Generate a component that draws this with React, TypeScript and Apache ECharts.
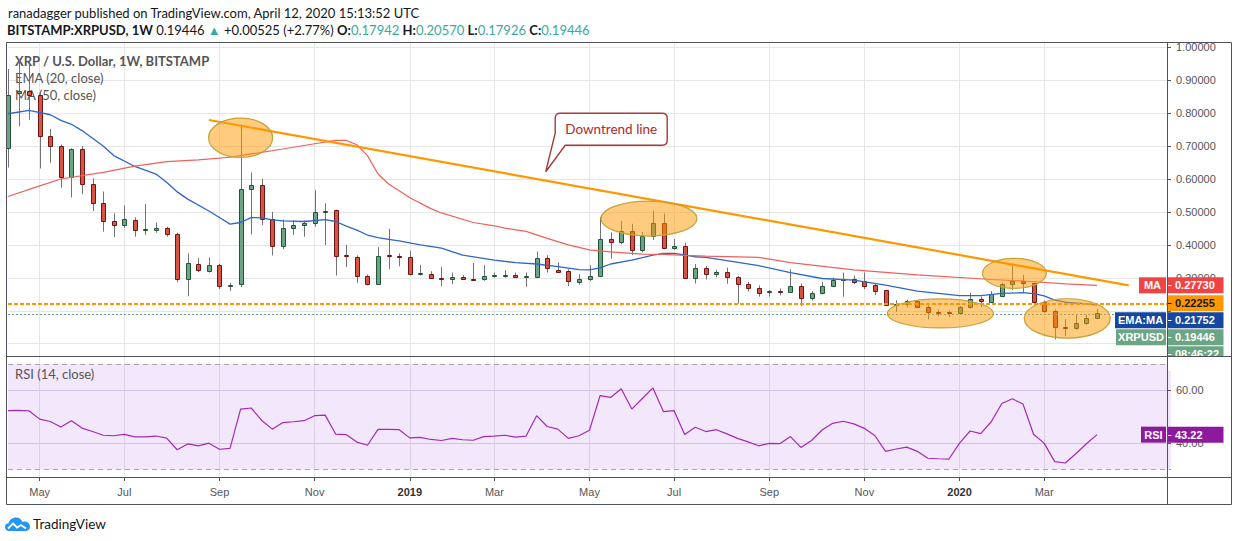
import React, { useEffect, useRef } from "react";
import * as echarts from "echarts";

// ---------- data ----------
const START_UTC = Date.UTC(2018, 3, 16);
const WEEK_MS = 7 * 86400000;
const SLOTS = 111;
const MONTHS = ["Jan", "Feb", "Mar", "Apr", "May", "Jun", "Jul", "Aug", "Sep", "Oct", "Nov", "Dec"];

const OPEN = [
  0.693, 0.862, 0.866, 0.856, 0.73, 0.7, 0.605, 0.691, 0.584, 0.526,
  0.474, 0.461, 0.477, 0.446, 0.446, 0.452, 0.434, 0.295, 0.343, 0.32,
  0.34, 0.275, 0.282, 0.571, 0.582, 0.48, 0.396, 0.452, 0.459, 0.465,
  0.5, 0.506, 0.368, 0.363, 0.305, 0.282, 0.368, 0.367, 0.362, 0.312,
  0.313, 0.3, 0.295, 0.304, 0.298, 0.295, 0.306, 0.306, 0.31, 0.304,
  0.304, 0.359, 0.325, 0.32, 0.286, 0.295, 0.307, 0.417, 0.408, 0.442,
  0.383, 0.427, 0.466, 0.39, 0.396, 0.3, 0.329, 0.311, 0.317, 0.302,
  0.28, 0.268, 0.257, 0.26, 0.258, 0.275, 0.238, 0.253, 0.275, 0.292,
  0.298, 0.29, 0.277, 0.262, 0.219, 0.222, 0.229, 0.213, 0.197, 0.196,
  0.194, 0.2124, 0.2347, 0.2276, 0.246, 0.28, 0.2895, 0.283, 0.2255, 0.2002,
  0.1494, 0.147, 0.1616, 0.17942,
];
const CLOSE = [
  0.856, 0.867, 0.856, 0.73, 0.7, 0.605, 0.691, 0.584, 0.526, 0.474,
  0.461, 0.478, 0.446, 0.449, 0.452, 0.434, 0.295, 0.344, 0.325, 0.34,
  0.274, 0.278, 0.571, 0.582, 0.479, 0.396, 0.452, 0.46, 0.466, 0.501,
  0.503, 0.366, 0.365, 0.305, 0.282, 0.366, 0.365, 0.363, 0.313, 0.314,
  0.3, 0.295, 0.304, 0.298, 0.294, 0.307, 0.308, 0.31, 0.303, 0.307,
  0.359, 0.329, 0.318, 0.29, 0.295, 0.307, 0.417, 0.408, 0.442, 0.384,
  0.427, 0.466, 0.39, 0.396, 0.3, 0.329, 0.311, 0.317, 0.302, 0.28,
  0.268, 0.253, 0.259, 0.258, 0.275, 0.238, 0.253, 0.275, 0.293, 0.297,
  0.288, 0.276, 0.261, 0.217, 0.222, 0.229, 0.213, 0.195, 0.195, 0.194,
  0.213, 0.2347, 0.2296, 0.25, 0.28, 0.2895, 0.283, 0.2255, 0.2002, 0.1494,
  0.147, 0.1616, 0.177, 0.19446,
];
const HIGH = [
  0.934, 0.96, 0.95, 0.865, 0.752, 0.705, 0.693, 0.7, 0.602, 0.562,
  0.496, 0.52, 0.484, 0.524, 0.468, 0.455, 0.437, 0.374, 0.36, 0.362,
  0.343, 0.285, 0.765, 0.62, 0.6, 0.5, 0.477, 0.474, 0.474, 0.566,
  0.526, 0.507, 0.4, 0.368, 0.31, 0.393, 0.449, 0.374, 0.382, 0.339,
  0.32, 0.333, 0.316, 0.308, 0.345, 0.338, 0.316, 0.323, 0.316, 0.316,
  0.38, 0.369, 0.347, 0.326, 0.311, 0.338, 0.485, 0.438, 0.473, 0.464,
  0.439, 0.504, 0.495, 0.418, 0.407, 0.342, 0.336, 0.324, 0.331, 0.306,
  0.288, 0.277, 0.263, 0.268, 0.326, 0.283, 0.26, 0.288, 0.301, 0.316,
  0.307, 0.316, 0.283, 0.263, 0.232, 0.234, 0.23, 0.217, 0.204, 0.201,
  0.214, 0.255, 0.243, 0.26, 0.285, 0.344, 0.309, 0.285, 0.231, 0.204,
  0.175, 0.189, 0.188, 0.2057,
];
const LOW = [
  0.635, 0.76, 0.78, 0.632, 0.649, 0.574, 0.544, 0.554, 0.503, 0.44,
  0.424, 0.452, 0.425, 0.43, 0.437, 0.425, 0.287, 0.244, 0.317, 0.316,
  0.266, 0.26, 0.272, 0.432, 0.46, 0.368, 0.387, 0.43, 0.425, 0.455,
  0.4, 0.307, 0.333, 0.285, 0.277, 0.282, 0.326, 0.335, 0.308, 0.307,
  0.297, 0.275, 0.281, 0.294, 0.293, 0.291, 0.3, 0.3, 0.299, 0.272,
  0.303, 0.316, 0.315, 0.275, 0.279, 0.29, 0.305, 0.358, 0.402, 0.369,
  0.377, 0.415, 0.387, 0.385, 0.298, 0.283, 0.295, 0.302, 0.282, 0.222,
  0.258, 0.243, 0.243, 0.247, 0.256, 0.215, 0.231, 0.25, 0.273, 0.243,
  0.281, 0.266, 0.248, 0.214, 0.197, 0.21, 0.21, 0.174, 0.182, 0.181,
  0.192, 0.207, 0.211, 0.225, 0.243, 0.263, 0.255, 0.222, 0.194, 0.113,
  0.123, 0.1425, 0.157, 0.17926,
];
const RSI = [
  52.3, 52.4, 52.2, 49.1, 48.2, 46.1, 48.5, 45.7, 44.4, 43.0,
  42.8, 43.3, 42.4, 42.4, 42.7, 41.9, 37.5, 39.7, 39.0, 40.0,
  37.7, 38.0, 52.9, 53.3, 48.6, 45.3, 47.8, 48.1, 48.5, 50.4,
  50.6, 43.4, 43.2, 40.4, 39.2, 45.2, 45.2, 45.1, 42.0, 42.2,
  41.4, 41.0, 41.8, 41.3, 41.1, 42.5, 42.7, 43.0, 42.3, 42.7,
  50.4, 46.3, 45.3, 41.8, 42.8, 44.9, 58.0, 57.3, 60.6, 52.9,
  56.9, 60.9, 51.9, 52.3, 43.3, 46.0, 44.4, 45.1, 43.5, 41.8,
  40.5, 39.0, 39.9, 39.8, 42.5, 38.4, 41.0, 45.0, 47.5, 48.3,
  47.3, 45.6, 42.8, 36.9, 37.8, 38.5, 36.9, 34.3, 34.1, 34.0,
  40.0, 44.6, 43.6, 48.1, 55.0, 56.8, 54.8, 43.4, 40.0, 33.0,
  32.5, 36.0, 39.8, 43.22,
];
const EMA20 = [
  [0, 0.798], [2, 0.808], [4, 0.795], [5, 0.778], [6, 0.766], [7, 0.747], [9, 0.7], [10, 0.671],
  [12, 0.638], [14, 0.615], [15, 0.59], [16, 0.561], [17, 0.539], [19, 0.503], [20, 0.483], [21, 0.463],
  [22, 0.468], [23, 0.483], [24, 0.482], [25, 0.476], [26, 0.473], [28, 0.471], [30, 0.477], [31, 0.471],
  [32, 0.457], [33, 0.445], [34, 0.43], [35, 0.422], [36, 0.417], [37, 0.412], [39, 0.4], [41, 0.39],
  [43, 0.369], [46, 0.354], [48, 0.346], [50, 0.342], [52, 0.334], [54, 0.325], [55, 0.324], [56, 0.33],
  [57, 0.342], [59, 0.354], [61, 0.369], [62, 0.374], [63, 0.374], [64, 0.37], [65, 0.364], [66, 0.362],
  [68, 0.352], [71, 0.337], [74, 0.316], [77, 0.298], [80, 0.293], [83, 0.278], [86, 0.26], [90, 0.246],
  [92, 0.246], [94, 0.253], [96, 0.255], [97, 0.252], [98, 0.245], [99, 0.2327], [100, 0.226], [102, 0.221],
  [103, 0.21752],
];
const MA50 = [
  [0, 0.547], [3, 0.579], [5, 0.6], [9, 0.62], [12, 0.639], [15, 0.653], [18, 0.658], [21, 0.666],
  [23, 0.676], [26, 0.691], [29, 0.707], [31, 0.717], [32, 0.717], [33, 0.704], [34, 0.671], [35, 0.615],
  [36, 0.585], [37, 0.564], [38, 0.543], [40, 0.51], [41, 0.497], [44, 0.468], [46, 0.458], [47, 0.451],
  [49, 0.441], [51, 0.42], [53, 0.4], [55, 0.385], [57, 0.379], [60, 0.372], [62, 0.371], [64, 0.368],
  [66, 0.366], [71, 0.362], [74, 0.346], [80, 0.324], [86, 0.309], [93, 0.295], [96, 0.2905], [100, 0.282],
  [103, 0.2773],
];
const TREND_LINE = [[19, 0.779], [106, 0.277]];
const LEVEL = 0.22255;
const LAST_PRICE = 0.19446;
const MA_LAST = 0.2773;
const EMA_LAST = 0.21752;
const RSI_LAST = 43.22;
const COUNTDOWN = "08:46:22";
// price-axis labels hidden under the stacked tags
const HIDDEN_PRICE_LABELS = [0.1, 0.2];
// annotation ellipses: [candle index, price, dx px, rx, ry]
const ELLIPSES = [
  [22, 0.725, 0, 32, 19.7],
  [61, 0.48, -4, 48, 17.5],
  [95, 0.3137, 2, 32, 15],
  [88, 0.1919, 2, 53, 14.5],
  [100, 0.1767, 2, 43, 19.7],
];
const CALLOUT_ANCHOR = [51, 0.622];
const HEADER_1 = "ranadagger published on TradingView.com, April 12, 2020 15:13:52 UTC";
const SYMBOL = "BITSTAMP:XRPUSD, 1W";
const QUOTE = { last: "0.19446", change: "+0.00525 (+2.77%)", o: "0.17942", h: "0.20570", l: "0.17926", c: "0.19446" };

// ---------- derived ----------
const DATES = Array.from({ length: SLOTS }, (_, i) => new Date(START_UTC + i * WEEK_MS));
const CATS = DATES.map((d) => d.toISOString().slice(0, 10));
const XLABELS = DATES.map((d, i) => {
  if (i === 0 || i >= OPEN.length) return "";
  const m = d.getUTCMonth();
  if (m === DATES[i - 1].getUTCMonth() || m % 2 !== 0) return "";
  return m === 0 ? String(d.getUTCFullYear()) : MONTHS[m];
});
const CANDLES = OPEN.map((o, i) => [i, o, CLOSE[i], LOW[i], HIGH[i]]);

const UP = "#6ba583";
const DOWN = "#d75442";
const UP_B = "#225437";
const DOWN_B = "#6f1614";
const WICK = "#737375";
const GRID_C = "#e6e6e6";
const FRAME = "#50535e";
const AX_FONT = "Liberation Sans";
const UI_FONT = "Lato";

const CALLOUT_D = "M5,0 H107 Q112,0 112,5 V27 Q112,32 107,32 H10 L-9.5,58.5 L0,20 V5 Q0,0 5,0 Z";
const LOGO_D =
  "M4,14 C1.5,14 0,12 0,10 C0,7.8 1.7,6.2 3.8,6 C4.5,2.8 7.5,0.5 11,0.5 C14,0.5 16.5,2.3 17.5,5 C18.2,4.7 19,4.6 19.8,4.6 C22.7,4.6 25,6.9 25,9.8 C25,12.2 23,14 20.5,14 Z";
let registered = false;
function registerShapes() {
  if (registered) return;
  registered = true;
  echarts.graphic.registerShape("tvCallout", echarts.graphic.extendPath(CALLOUT_D, {}) as any);
  echarts.graphic.registerShape("tvLogo", echarts.graphic.extendPath(LOGO_D, {}) as any);
}

const isLabel = (i: number) => XLABELS[i] !== "";

function baseOption(): any {
  return {
    animation: false,
    backgroundColor: "#ffffff",
    textStyle: { fontFamily: AX_FONT },
    grid: [
      { left: 8, right: 63, top: 42, bottom: 185 },
      { left: 8, right: 63, top: 357, bottom: 64 },
    ],
    xAxis: [
      {
        gridIndex: 0,
        type: "category",
        data: CATS,
        boundaryGap: false,
        axisLine: { show: false },
        axisTick: { show: false },
        axisLabel: { show: false },
        splitLine: { show: true, interval: isLabel, lineStyle: { color: GRID_C, width: 1 } },
      },
      {
        gridIndex: 1,
        type: "category",
        data: CATS,
        boundaryGap: false,
        axisLine: { show: false },
        axisTick: { show: true, interval: isLabel, length: 4, lineStyle: { color: FRAME } },
        axisLabel: {
          show: true,
          interval: isLabel,
          margin: 9,
          color: "#555",
          fontSize: 11,
          fontFamily: AX_FONT,
          formatter: (_v: string, i: number) => {
            const t = XLABELS[i];
            return /^\d{4}$/.test(t) ? `{y|${t}}` : t;
          },
          rich: { y: { fontWeight: "bold", color: "#333", fontSize: 11, fontFamily: AX_FONT } },
        },
        splitLine: { show: true, interval: isLabel, lineStyle: { color: GRID_C, width: 1 } },
      },
    ],
    yAxis: [
      {
        gridIndex: 0,
        type: "value",
        position: "right",
        offset: -4,
        min: 0.0628,
        max: 1.0158,
        splitNumber: 10,
        minInterval: 0.1,
        maxInterval: 0.1,
        axisLine: { show: false },
        axisTick: { show: true, length: 4, lineStyle: { color: FRAME } },
        axisLabel: {
          showMinLabel: false,
          showMaxLabel: false,
          margin: 9,
          color: "#555",
          fontSize: 11,
          fontFamily: AX_FONT,
          formatter: (v: number) =>
            HIDDEN_PRICE_LABELS.some((h) => Math.abs(h - v) < 1e-6) ? "" : v.toFixed(5),
        },
        splitLine: { show: true, showMinLine: false, showMaxLine: false, lineStyle: { color: GRID_C } },
      },
      {
        gridIndex: 1,
        type: "value",
        position: "right",
        offset: -4,
        min: 27.2,
        max: 72.6,
        splitNumber: 4,
        minInterval: 20,
        maxInterval: 20,
        axisLine: { show: false },
        axisTick: { show: true, length: 4, lineStyle: { color: FRAME } },
        axisLabel: {
          showMinLabel: false,
          showMaxLabel: false,
          margin: 9,
          color: "#555",
          fontSize: 11,
          fontFamily: AX_FONT,
          formatter: (v: number) => v.toFixed(2),
        },
        splitLine: { show: true, showMinLine: false, showMaxLine: false, lineStyle: { color: "#ddd3e6" } },
      },
    ],
    series: [
      {
        name: "XRPUSD",
        type: "custom",
        xAxisIndex: 0,
        yAxisIndex: 0,
        data: CANDLES,
        encode: { x: 0, y: [1, 2, 3, 4] },
        z: 2,
        renderItem: (_p: any, api: any) => {
          const i = api.value(0);
          const o = api.value(1);
          const c = api.value(2);
          const l = api.value(3);
          const h = api.value(4);
          const pO = api.coord([i, o]);
          const pC = api.coord([i, c]);
          const pL = api.coord([i, l]);
          const pH = api.coord([i, h]);
          const x = Math.round(pO[0]);
          const up = c >= o;
          const top = Math.round(Math.min(pO[1], pC[1]));
          const bot = Math.round(Math.max(pO[1], pC[1]));
          return {
            type: "group",
            children: [
              {
                type: "line",
                shape: { x1: x + 0.5, y1: pH[1], x2: x + 0.5, y2: pL[1] },
                style: { stroke: WICK, lineWidth: 1 },
              },
              {
                type: "rect",
                shape: { x: x - 1.5, y: top + 0.5, width: 4, height: Math.max(bot - top, 1) },
                style: { fill: up ? UP : DOWN, stroke: up ? UP_B : DOWN_B, lineWidth: 1 },
              },
            ],
          };
        },
      },
      {
        name: "EMA",
        type: "line",
        xAxisIndex: 0,
        yAxisIndex: 0,
        data: EMA20,
        showSymbol: false,
        symbol: "none",
        z: 3,
        lineStyle: { color: "#2f66c7", width: 1.3 },
        markLine: {
          silent: true,
          symbol: "none",
          label: { show: false },
          data: [
            { yAxis: LEVEL, lineStyle: { color: "#ff9800", width: 2, type: [4, 2] } },
            { yAxis: LAST_PRICE, lineStyle: { color: UP, width: 1, type: [2, 2] } },
          ],
        },
      },
      {
        name: "MA",
        type: "line",
        xAxisIndex: 0,
        yAxisIndex: 0,
        data: MA50,
        showSymbol: false,
        symbol: "none",
        z: 3,
        lineStyle: { color: "#f0605a", width: 1.2 },
      },
      {
        name: "Trend",
        type: "line",
        xAxisIndex: 0,
        yAxisIndex: 0,
        data: TREND_LINE,
        showSymbol: false,
        symbol: "none",
        z: 4,
        lineStyle: { color: "#ff9800", width: 2.2 },
      },
      {
        name: "RSI",
        type: "line",
        xAxisIndex: 1,
        yAxisIndex: 1,
        data: RSI,
        showSymbol: false,
        symbol: "none",
        z: 3,
        lineStyle: { color: "#a02cb4", width: 1.2 },
        markArea: {
          silent: true,
          itemStyle: { color: "rgba(150, 40, 230, 0.11)" },
          data: [[{ yAxis: 30 }, { yAxis: 70 }]],
        },
        markLine: {
          silent: true,
          symbol: "none",
          label: { show: false },
          lineStyle: { color: "#a9a6b0", width: 1, type: [5, 4] },
          data: [{ yAxis: 70 }, { yAxis: 30 }],
        },
      },
    ],
  };
}

function tag(
  yc: number,
  label: string | null,
  labelW: number,
  value: string,
  bg: string,
  fg: string,
  z: number
): any[] {
  const out: any[] = [];
  const h = 16;
  if (label) {
    out.push({
      type: "rect",
      z,
      shape: { x: 1166 - labelW, y: yc - h / 2, width: labelW, height: h },
      style: { fill: bg },
    });
    out.push({
      type: "text",
      z: z + 1,
      x: 1166 - labelW / 2,
      y: yc,
      style: {
        text: label,
        fill: fg,
        font: `bold 11px "${AX_FONT}"`,
        textAlign: "center",
        textVerticalAlign: "middle",
        align: "center",
        verticalAlign: "middle",
      },
    });
  }
  out.push({
    type: "rect",
    z,
    shape: { x: 1167.5, y: yc - h / 2, width: 56, height: h },
    style: { fill: bg },
  });
  out.push({
    type: "line",
    z: z + 1,
    shape: { x1: 1167.5, y1: Math.round(yc) + 0.5, x2: 1171.5, y2: Math.round(yc) + 0.5 },
    style: { stroke: fg, lineWidth: 1 },
  });
  out.push({
    type: "text",
    z: z + 1,
    x: 1175,
    y: yc,
    style: {
      text: value,
      fill: fg,
      font: `bold 11px "${AX_FONT}"`,
      textAlign: "left",
      textVerticalAlign: "middle",
      align: "left",
      verticalAlign: "middle",
    },
  });
  return out;
}

function buildGraphics(chart: any): any[] {
  const py = (v: number) => chart.convertToPixel({ yAxisIndex: 0 }, v) as number;
  const ry = (v: number) => chart.convertToPixel({ yAxisIndex: 1 }, v) as number;
  const pt = (i: number, v: number) => chart.convertToPixel({ gridIndex: 0 }, [i, v]) as number[];
  const g: any[] = [];

  // header
  g.push({
    type: "text",
    x: 8,
    y: 13,
    z: 1,
    style: { text: HEADER_1, fill: "#131722", font: `13px "${UI_FONT}"`, textVerticalAlign: "middle", verticalAlign: "middle" },
  });
  g.push({
    type: "text",
    x: 7,
    y: 30,
    z: 1,
    style: {
      text: `{b|${SYMBOL}} {n|${QUOTE.last}} {g|▲} {n|${QUOTE.change}} {b|O:}{g|${QUOTE.o}} {b|H:}{g|${QUOTE.h}} {b|L:}{g|${QUOTE.l}} {b|C:}{g|${QUOTE.c}}`,
      font: `13px "${UI_FONT}"`,
      textVerticalAlign: "middle",
      verticalAlign: "middle",
      rich: {
        b: { fontWeight: "bold", fill: "#131722", fontSize: 13, fontFamily: UI_FONT },
        n: { fill: "#131722", fontSize: 13, fontFamily: UI_FONT },
        g: { fill: "#3aaa9c", fontSize: 13, fontFamily: UI_FONT },
      },
    },
  });
  // in-pane legends (below candles)
  const legend = (t: string, y: number, bold: boolean) => ({
    type: "text",
    x: 15,
    y,
    z: 1,
    style: {
      text: t,
      fill: "#555",
      font: `${bold ? "bold " : ""}13px "${UI_FONT}"`,
      textVerticalAlign: "middle",
      verticalAlign: "middle",
    },
  });
  g.push(legend("XRP / U.S. Dollar, 1W, BITSTAMP", 60.5, true));
  g.push(legend("EMA (20, close)", 77.5, false));
  g.push(legend("MA (50, close)", 94.5, false));
  g.push(legend("RSI (14, close)", 374, false));

  // ellipses
  ELLIPSES.forEach(([i, v, dx, rx, ry2]) => {
    const p = pt(i, v);
    g.push({
      type: "ellipse",
      z: 5,
      shape: { cx: p[0] + dx, cy: p[1], rx, ry: ry2 },
      style: { fill: "rgba(255,152,0,0.5)", stroke: "#c4a23a", lineWidth: 1.2 },
    });
  });

  // callout
  const tip = pt(CALLOUT_ANCHOR[0], CALLOUT_ANCHOR[1]);
  const ox = tip[0] - 1.5 + 9.5;
  const oy = tip[1] - 58.5;
  g.push({
    type: "tvCallout",
    z: 6,
    x: ox,
    y: oy,
    style: { fill: "#ffffff", stroke: "#a83a3a", lineWidth: 1.4 },
  });
  g.push({
    type: "text",
    z: 7,
    x: ox + 56,
    y: oy + 16,
    style: {
      text: "Downtrend line",
      fill: "#b02a2a",
      font: `13.5px "${UI_FONT}"`,
      textAlign: "center",
      textVerticalAlign: "middle",
      align: "center",
      verticalAlign: "middle",
    },
  });

  // price tags (stacked)
  const yMA = py(MA_LAST);
  const yLevel = Math.max(py(LEVEL), yMA + 17);
  const yEma = Math.max(py(EMA_LAST), yLevel + 17);
  const yLast = Math.max(py(LAST_PRICE), yEma + 17);
  const yCd = yLast + 17;
  g.push(...tag(yMA, "MA", 27, MA_LAST.toFixed(5), "#f04444", "#ffffff", 20));
  g.push(...tag(yLevel, null, 0, LEVEL.toFixed(5), "#ff9800", "#131722", 20));
  g.push(...tag(yEma, "EMA:MA", 51, EMA_LAST.toFixed(5), "#1447a0", "#ffffff", 20));
  g.push(...tag(yLast, "XRPUSD", 50, LAST_PRICE.toFixed(5), UP, "#ffffff", 20));
  g.push(...tag(yCd, null, 0, COUNTDOWN, UP, "#ffffff", 20));
  // cover overflow of countdown below the pane
  g.push({ type: "rect", z: 25, shape: { x: 1168, y: 357, width: 64, height: 14 }, style: { fill: "#ffffff" } });
  // rsi tag
  g.push(...tag(ry(RSI_LAST), "RSI", 25, RSI_LAST.toFixed(2), "#8d1a9d", "#ffffff", 20));

  // frame
  const fl = (x1: number, y1: number, x2: number, y2: number) => ({
    type: "line",
    z: 30,
    shape: { x1, y1, x2, y2 },
    style: { stroke: FRAME, lineWidth: 1 },
  });
  g.push({
    type: "rect",
    z: 30,
    shape: { x: 6.5, y: 42.5, width: 1225, height: 462 },
    style: { fill: "none", stroke: FRAME, lineWidth: 1 },
  });
  g.push(fl(1167.5, 42.5, 1167.5, 504.5));
  g.push(fl(6.5, 356.5, 1231.5, 356.5));
  g.push(fl(6.5, 477.5, 1231.5, 477.5));

  // TradingView logo
  g.push({ type: "tvLogo", z: 1, x: 5, y: 517, style: { fill: "#2196f3" } });
  g.push({
    type: "polyline",
    z: 2,
    shape: { points: [[3, 11.5], [8, 6.5], [12, 10.5], [16, 8], [21, 11.5]] },
    x: 5,
    y: 517,
    style: { stroke: "#ffffff", lineWidth: 1.8, fill: "none" },
  });
  g.push({
    type: "text",
    z: 1,
    x: 33,
    y: 524,
    style: { text: "TradingView", fill: "#131722", font: `13.5px "${UI_FONT}"`, textVerticalAlign: "middle", verticalAlign: "middle" },
  });
  return g;
}

export default function App() {
  const ref = useRef<HTMLDivElement>(null);
  useEffect(() => {
    if (!ref.current) return;
    registerShapes();
    const chart = echarts.init(ref.current, undefined, { renderer: "svg" });
    chart.setOption(baseOption());
    chart.setOption({ graphic: { elements: buildGraphics(chart) } });
    return () => chart.dispose();
  }, []);
  return (
    <div
      ref={ref}
      style={{ position: "fixed", left: 0, top: 0, width: 1234, height: 541, background: "#ffffff" }}
    />
  );
}
